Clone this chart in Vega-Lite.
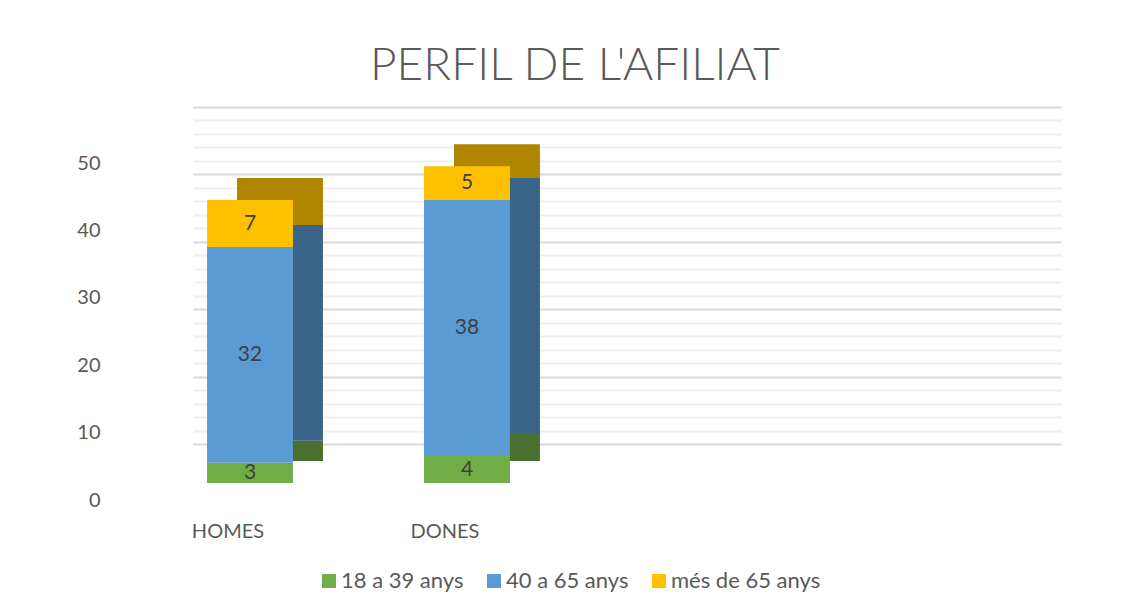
{
  "$schema": "https://vega.github.io/schema/vega-lite/v6.json",
  "autosize": {"type": "none"},
  "width": 868,
  "height": 337,
  "padding": {"left": 193, "top": 146, "right": 70, "bottom": 130},
  "background": "white",
  "config": {"view": {"stroke": null}, "font": "Lato"},
  "title": {
    "text": "PERFIL DE L'AFILIAT",
    "font": "Lato",
    "fontSize": 46,
    "fontWeight": 300,
    "color": "#595959",
    "anchor": "middle",
    "frame": "group",
    "dx": -52,
    "offset": 54
  },
  "data": {
    "values": [
      {"sexe": "HOMES", "grup": "18 a 39 anys", "n": 3},
      {"sexe": "HOMES", "grup": "40 a 65 anys", "n": 32},
      {"sexe": "HOMES", "grup": "més de 65 anys", "n": 7},
      {"sexe": "DONES", "grup": "18 a 39 anys", "n": 4},
      {"sexe": "DONES", "grup": "40 a 65 anys", "n": 38},
      {"sexe": "DONES", "grup": "més de 65 anys", "n": 5}
    ]
  },
  "encoding": {
    "x": {
      "field": "sexe",
      "type": "nominal",
      "scale": {"domain": ["HOMES", "DONES", "c3", "c4"], "paddingInner": 0.604, "paddingOuter": 0.302, "align": 0.107},
      "axis": {
        "title": null,
        "domain": false,
        "ticks": false,
        "labelAngle": 0,
        "labelExpr": "datum.value == 'HOMES' || datum.value == 'DONES' ? datum.value : ''",
        "labelOffset": -22,
        "labelPadding": 38,
        "labelFont": "Lato",
        "labelFontSize": 20,
        "labelColor": "#595959"
      }
    },
    "y": {
      "field": "n",
      "type": "quantitative",
      "aggregate": "sum",
      "scale": {"domain": [0, 50], "nice": false},
      "axis": {
        "title": null,
        "domain": false,
        "ticks": false,
        "values": [0, 2, 4, 6, 8, 10, 12, 14, 16, 18, 20, 22, 24, 26, 28, 30, 32, 34, 36, 38, 40, 42, 44, 46, 48, 50],
        "labelExpr": "datum.value % 10 === 0 ? datum.label : ''",
        "tickOffset": -39,
        "labelOffset": 56,
        "offset": 88,
        "labelPadding": 5,
        "labelFont": "Lato",
        "labelFontSize": 20,
        "labelColor": "#595959",
        "grid": true,
        "gridColor": {"condition": {"test": "datum.value % 10 === 0", "value": "#d9d9d9"}, "value": "#efefef"},
        "gridWidth": 2
      }
    },
    "order": {"field": "grup", "type": "nominal", "sort": "ascending"}
  },
  "layer": [
    {
      "mark": {"type": "bar", "xOffset": 30, "yOffset": -22},
      "encoding": {
        "color": {
          "field": "grup",
          "type": "nominal",
          "scale": {"domain": ["18 a 39 anys", "40 a 65 anys", "més de 65 anys"], "range": ["#4a7030", "#3a6487", "#b08600"]},
          "legend": null
        }
      }
    },
    {
      "mark": {"type": "bar"},
      "encoding": {
        "color": {
          "field": "grup",
          "type": "nominal",
          "scale": {"domain": ["18 a 39 anys", "40 a 65 anys", "més de 65 anys"], "range": ["#70ad47", "#5b9bd5", "#ffc000"]},
          "legend": {
            "title": null,
            "orient": "none",
            "direction": "horizontal",
            "legendX": 125,
            "legendY": 424,
            "symbolType": "square",
            "symbolSize": 196,
            "symbolStrokeWidth": 0,
            "labelFont": "Lato",
            "labelFontSize": 22,
            "labelColor": "#595959",
            "labelOffset": 1,
            "columnPadding": 19
          }
        }
      }
    },
    {
      "mark": {"type": "text", "font": "Lato", "fontSize": 21, "color": "#404040"},
      "encoding": {
        "y": {"field": "n", "type": "quantitative", "aggregate": "sum", "stack": "zero", "bandPosition": 0.5},
        "detail": {"field": "grup", "type": "nominal"},
        "text": {"field": "n", "type": "quantitative", "aggregate": "sum"}
      }
    }
  ],
  "resolve": {"scale": {"color": "independent"}}
}
